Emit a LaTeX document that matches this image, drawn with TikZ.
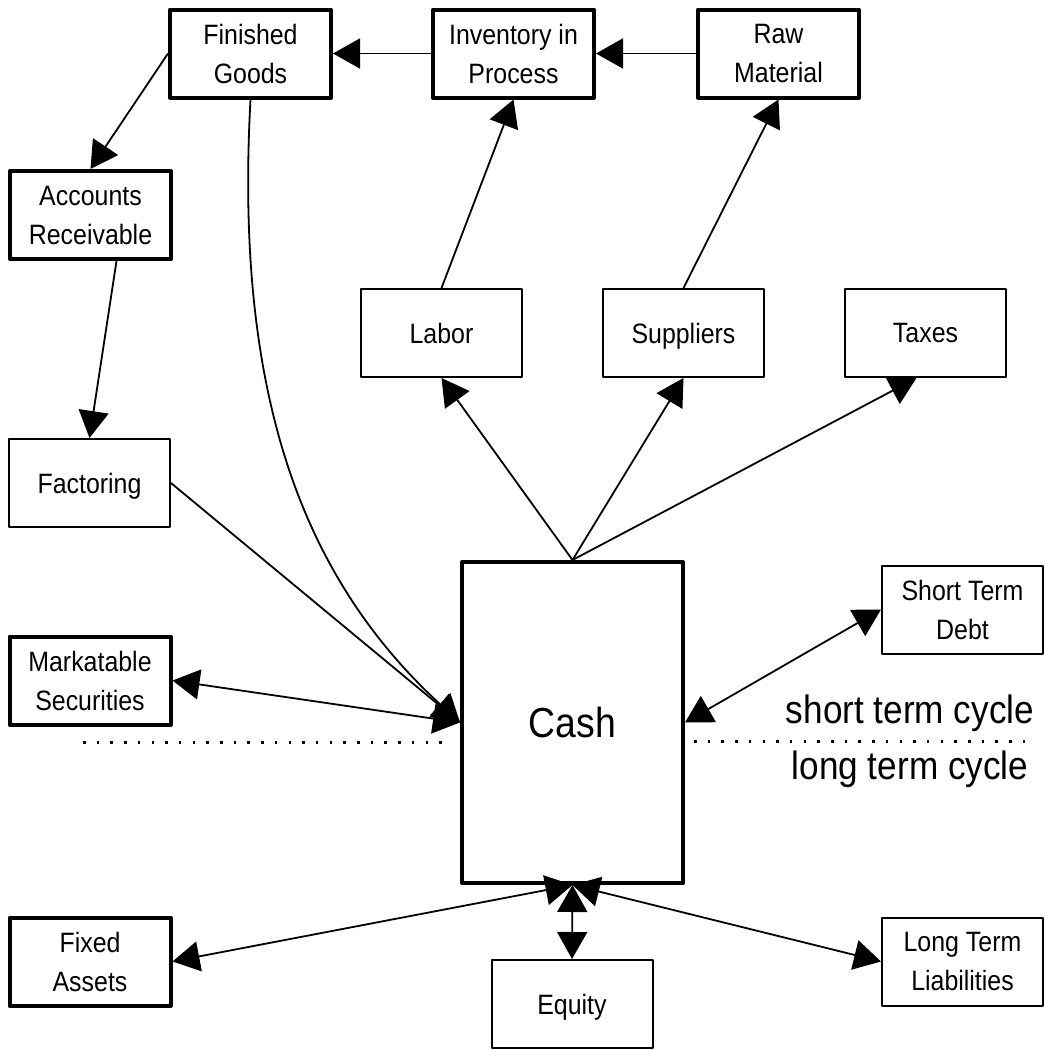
\documentclass[tikz,border=0pt]{standalone}
\usepackage{fontspec}
\setmainfont[FakeStretch=0.89]{Liberation Sans}
\usetikzlibrary{arrows.meta,calc}
\begin{document}
\begin{tikzpicture}[x=1pt,y=-1pt,
  box/.style={draw, line width=2pt, line join=round, minimum width=161pt, minimum height=88pt,
    inner sep=0pt, align=center, font=\fontsize{28}{39}\selectfont},
  thickbox/.style={box, line width=4pt},
  single/.style={text depth=0pt},
  conn/.style={line width=1.8pt},
  tip/.tip={Triangle[length=27pt,width=30pt]},
  arr/.style={conn, -tip},
  darr/.style={conn, tip-tip},
  dotline/.style={line width=3pt, dash pattern=on 2.5pt off 11.2pt},
  cyclelabel/.style={anchor=base, inner sep=0pt, font=\fontsize{39.5}{45}\selectfont}
]
\useasboundingbox (0,0) rectangle (1046,1050);
% nodes
\node[thickbox] (fg)  at (250.5,53.5) {Finished\\Goods};
\node[thickbox] (inv) at (513.5,53.5) {Inventory in\\Process};
\node[thickbox] (raw) at (778.5,53.5) {Raw\\Material};
\node[thickbox] (ar)  at (90.5,215) {Accounts\\Receivable};
\node[box,single] (labor) at (441.5,333) {Labor};
\node[box,single] (supp)  at (683.5,333) {Suppliers};
\node[box,single] (taxes) at (925.5,333) {Taxes};
\node[box,single] (fact)  at (89.5,483) {Factoring};
\node[thickbox, minimum width=221pt, minimum height=321pt, font=\fontsize{42}{48}\selectfont, single] (cash) at (572.5,722.5) {Cash};
\node[box] (std) at (962.5,609.5) {Short Term\\Debt};
\node[thickbox] (ms) at (90,680.5) {Markatable\\Securities};
\node[thickbox] (fixed) at (90,961.5) {Fixed\\Assets};
\node[box,single] (equity) at (572,1004) {Equity};
\node[box] (ltl) at (962.5,961.5) {Long Term\\Liabilities};
\node[cyclelabel] (stc) at (910,723) {short term cycle};
\node[cyclelabel] (ltc) at (910,779) {long term cycle};
% dotted separators
\coordinate (dl1) at (83,742);
\coordinate (dl2) at (448,742);
\coordinate (dr1) at (694,741);
\coordinate (dr2) at (1036,741);
\draw[dotline] (dl1) -- (dl2);
\draw[dotline] (dr1) -- (dr2);
% connectors
\draw[arr] (inv.west) -- (fg.east);
\draw[arr] (raw.west) -- (inv.east);
\draw[arr] (fg.west) -- (ar.north);
\draw[arr] ($(ar.south)+(26,0)$) -- (fact.north);
\draw[arr] (labor.north) -- (inv.south);
\draw[arr] (supp.north) -- (raw.south);
\draw[arr] (cash.north) -- (labor.south);
\draw[arr] (cash.north) -- (supp.south);
\draw[arr] (cash.north) -- ($(taxes.south)+(-9,0)$);
\draw[arr] (fg.south) .. controls (234,400) and (305,580) .. (cash.west);
\draw[arr] (fact.east) -- (cash.west);
\draw[darr] (ms.east) -- (cash.west);
\draw[darr] (std.west) -- (cash.east);
\draw[darr] (fixed.east) -- (cash.south);
\draw[darr] (equity.north) -- (cash.south);
\draw[darr] (ltl.west) -- (cash.south);
\end{tikzpicture}
\end{document}
